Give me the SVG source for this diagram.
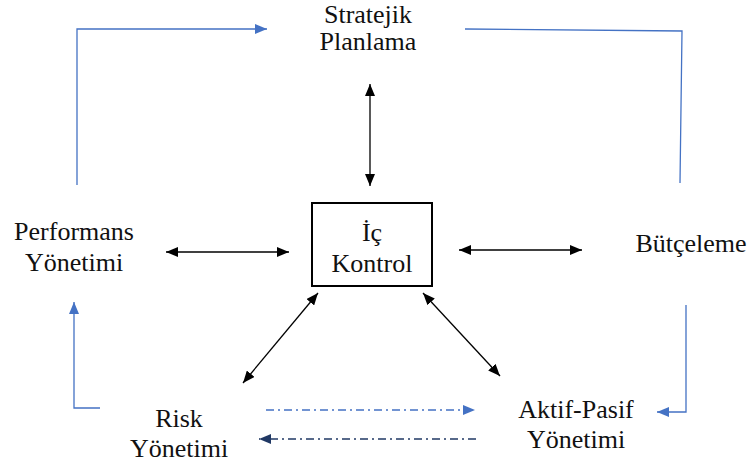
<svg xmlns="http://www.w3.org/2000/svg" width="750" height="468" viewBox="0 0 750 468">
<style>
text{font-family:'Liberation Serif','Times New Roman','DejaVu Serif',serif;font-size:26px;fill:#111;text-anchor:middle}
.blk{stroke:#000;stroke-width:1.3;fill:none;marker-start:url(#ah);marker-end:url(#ah)}
.blue{stroke:#4472C4;stroke-width:1.3;fill:none}
.dd{stroke-width:1.6;fill:none;stroke-dasharray:8 4 2 4}
</style>
<defs>
<marker id="ah" viewBox="0 0 12 10" refX="12" refY="5" markerWidth="12" markerHeight="10" markerUnits="userSpaceOnUse" orient="auto-start-reverse"><path d="M0,0 L12,5 L0,10 Z" fill="#000"/></marker>
<marker id="bh" viewBox="0 0 12 10" refX="12" refY="5" markerWidth="12" markerHeight="10" markerUnits="userSpaceOnUse" orient="auto"><path d="M0,0 L12,5 L0,10 Z" fill="#4472C4"/></marker>
<marker id="nh" viewBox="0 0 12 10" refX="12" refY="5" markerWidth="12" markerHeight="10" markerUnits="userSpaceOnUse" orient="auto"><path d="M0,0 L12,5 L0,10 Z" fill="#203864"/></marker>
</defs>
<g id="connectors">
<polyline class="blue" points="77,185 77,29 267,29" marker-end="url(#bh)"/>
<polyline class="blue" points="465,29 682,31 680,183"/>
<polyline class="blue" points="686,305 686,412 657,412" marker-end="url(#bh)"/>
<polyline class="blue" points="100,408 74,408 74,302" marker-end="url(#bh)"/>
<line class="blk" x1="370" y1="84" x2="370" y2="186"/>
<line class="blk" x1="166" y1="252" x2="289" y2="252"/>
<line class="blk" x1="459" y1="250" x2="582" y2="250"/>
<line class="blk" x1="318" y1="293" x2="243" y2="383"/>
<line class="blk" x1="423" y1="293" x2="500" y2="376"/>
<line class="dd" stroke="#4472C4" x1="266" y1="410" x2="475" y2="410" marker-end="url(#bh)"/>
<line class="dd" stroke="#203864" x1="476" y1="439" x2="259" y2="439" marker-end="url(#nh)"/>
</g>
<g id="stratejik"><text x="368" y="23">Stratejik</text><text x="368" y="50">Planlama</text></g>
<g id="ic-kontrol"><rect x="312" y="203" width="120" height="83" fill="#fff" stroke="#000" stroke-width="2"/><text x="372" y="241">İç</text><text x="372" y="272">Kontrol</text></g>
<g id="performans"><text x="74" y="240">Performans</text><text x="74" y="271">Yönetimi</text></g>
<g id="butceleme"><text x="691" y="252">Bütçeleme</text></g>
<g id="risk"><text x="179" y="427">Risk</text><text x="179" y="457">Yönetimi</text></g>
<g id="aktif-pasif"><text x="576" y="418">Aktif-Pasif</text><text x="576" y="448">Yönetimi</text></g>
</svg>
